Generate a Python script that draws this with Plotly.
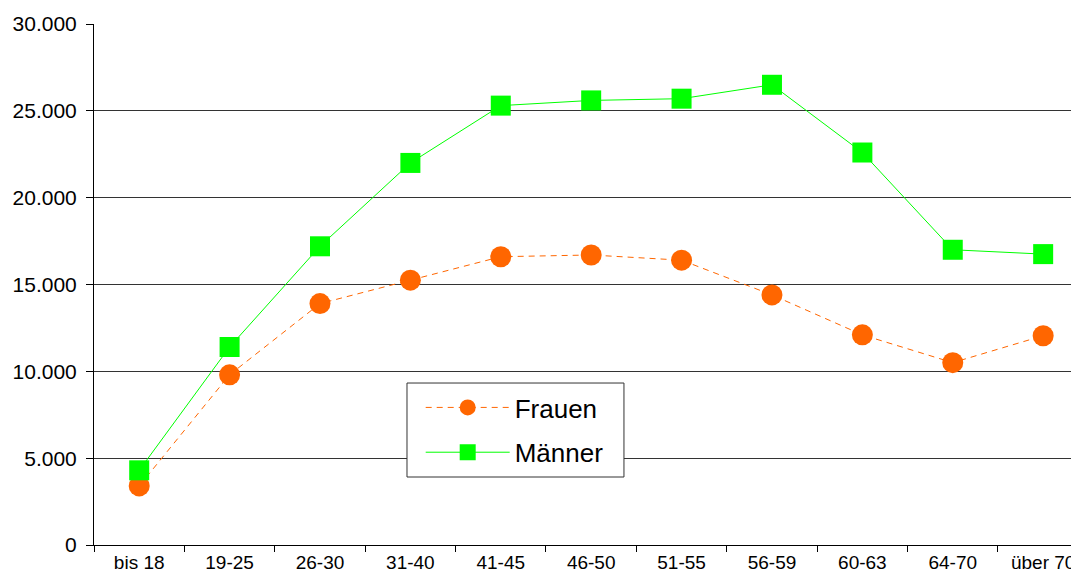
import plotly.graph_objects as go

categories = ["bis 18", "19-25", "26-30", "31-40", "41-45", "46-50", "51-55", "56-59", "60-63", "64-70", "über 70"]
frauen = [3400, 9800, 13900, 15250, 16600, 16700, 16400, 14400, 12100, 10500, 12050]
maenner = [4300, 11400, 17200, 22000, 25300, 25600, 25700, 26500, 22600, 17000, 16750]
y_ticks = [0, 5000, 10000, 15000, 20000, 25000, 30000]

fig = go.Figure()
fig.add_trace(go.Scatter(
    x=categories, y=frauen, name="Frauen", mode="lines+markers",
    legendgroup="f",
    line=dict(color="#FF6600", width=1, dash="6px,5px"),
    marker=dict(symbol="circle", size=21, color="#FF6600"),
))
fig.add_trace(go.Scatter(
    x=categories, y=maenner, name="Männer", mode="lines+markers",
    legendgroup="m",
    line=dict(color="#00FF00", width=1),
    marker=dict(symbol="square", size=20, color="#00FF00"),
))

# legend frame
fig.add_shape(
    type="rect", xref="paper", yref="paper",
    x0=0.3152, x1=0.5337, y0=0.1305, y1=0.3109,
    line=dict(color="#333333", width=1), fillcolor="white", layer="above",
)

fig.update_layout(
    width=1079, height=583,
    margin=dict(l=86, r=0, t=16, b=46),
    paper_bgcolor="white", plot_bgcolor="white",
    separators=",.",
    font=dict(family="Liberation Sans, Arial, sans-serif", size=20, color="black"),
    showlegend=True,
    legend=dict(
        x=0.329, y=0.309, xanchor="left", yanchor="top",
        borderwidth=0, bgcolor="rgba(0,0,0,0)",
        font=dict(size=26), itemwidth=84, traceorder="grouped",
        tracegroupgap=8,
    ),
    xaxis=dict(
        type="category", range=[-0.5, 10.485],
        showline=True, linecolor="#000000", linewidth=1,
        ticks="outside", ticklen=6, tickcolor="#000000",
        tickson="boundaries", showgrid=False, zeroline=False,
        tickfont=dict(size=19),
    ),
    yaxis=dict(
        range=[0, 30000], tickvals=y_ticks, tickformat=",d",
        showline=True, linecolor="#000000", linewidth=1,
        ticks="outside", ticklen=7, tickcolor="#000000",
        showgrid=True, gridcolor="#333333", gridwidth=1,
        zeroline=False, tickfont=dict(size=21), ticklabelstandoff=5,
    ),
)

fig.write_html("out.html")
